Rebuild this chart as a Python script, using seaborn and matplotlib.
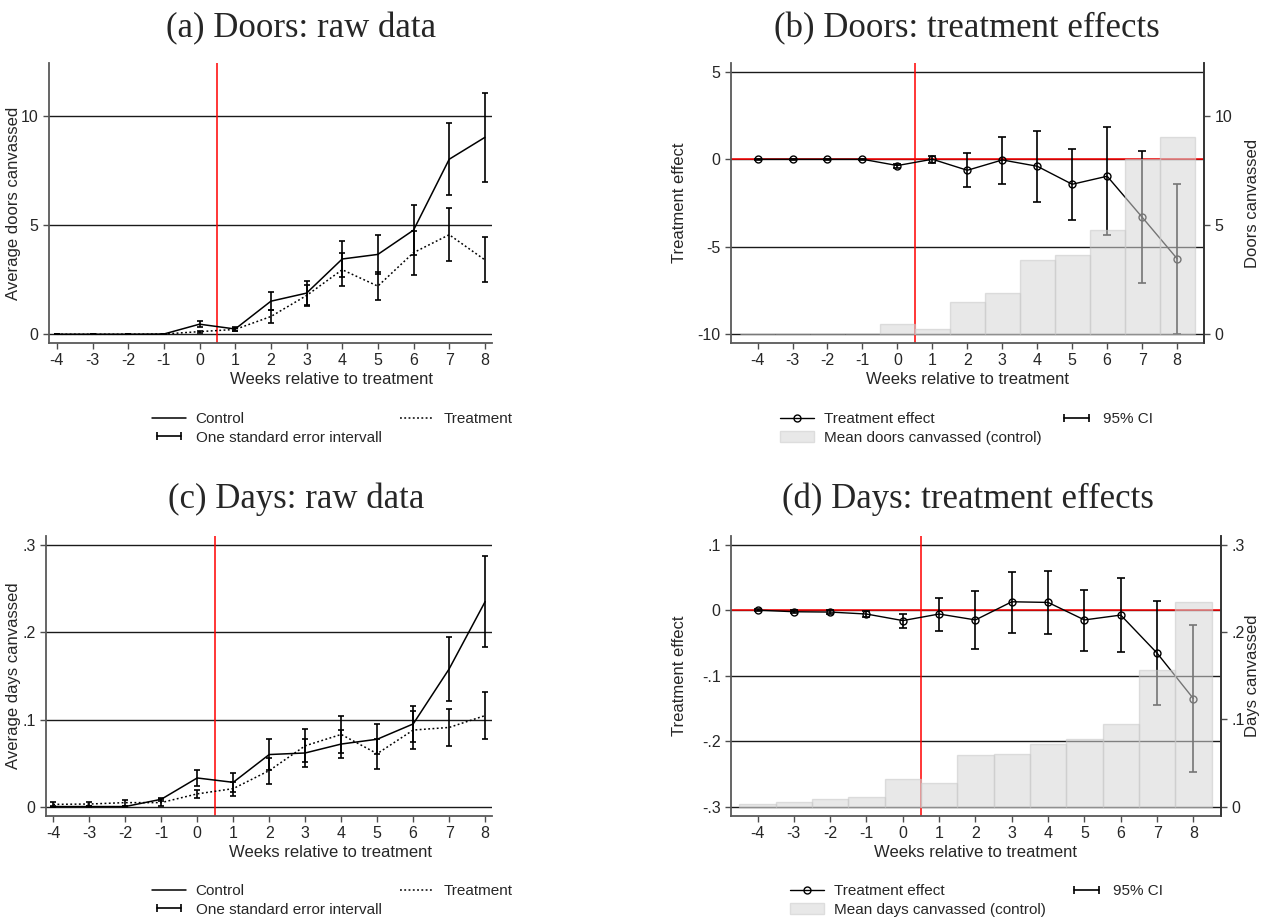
import matplotlib
matplotlib.use('Agg')
import matplotlib.pyplot as plt
import seaborn as sns
import numpy as np
from matplotlib.lines import Line2D
from matplotlib.patches import Patch
from matplotlib.legend_handler import HandlerLine2D
from matplotlib.ticker import FuncFormatter

weeks = [-4, -3, -2, -1, 0, 1, 2, 3, 4, 5, 6, 7, 8]

# (a) doors, raw means with one standard error
doors_control = [0, 0, 0, 0.01, 0.46, 0.24, 1.51, 1.88, 3.44, 3.65, 4.76, 8.0, 9.0]
doors_control_se = [0.01, 0.01, 0.01, 0.01, 0.13, 0.08, 0.41, 0.54, 0.82, 0.88, 1.15, 1.64, 2.03]
doors_treat = [0, 0, 0, 0.01, 0.12, 0.22, 0.81, 1.77, 2.95, 2.2, 3.73, 4.55, 3.4]
doors_treat_se = [0.01, 0.01, 0.01, 0.01, 0.05, 0.06, 0.30, 0.47, 0.75, 0.65, 1.0, 1.21, 1.03]

# (b) doors, treatment effects with 95% CI
doors_effect = [0, 0, 0, 0, -0.36, 0.0, -0.63, -0.04, -0.4, -1.43, -0.97, -3.31, -5.68]
doors_ci_lo = [-0.03, -0.03, -0.03, -0.03, -0.5, -0.23, -1.58, -1.41, -2.46, -3.47, -4.3, -7.09, -9.96]
doors_ci_hi = [0.03, 0.03, 0.03, 0.03, -0.25, 0.19, 0.34, 1.3, 1.64, 0.61, 1.83, 0.48, -1.41]
doors_bar = [0, 0, 0, 0.03, 0.47, 0.24, 1.48, 1.88, 3.40, 3.63, 4.78, 8.0, 9.0]

# (c) days, raw means with one standard error
days_control = [0.0005, 0.0005, 0.0005, 0.0088, 0.0332, 0.0282, 0.060, 0.0618, 0.072, 0.0775, 0.095, 0.158, 0.235]
days_control_se = [0.001, 0.001, 0.001, 0.0015, 0.0095, 0.0105, 0.0174, 0.0164, 0.016, 0.017, 0.021, 0.0367, 0.0525]
days_treat = [0.003, 0.0034, 0.005, 0.005, 0.015, 0.021, 0.0416, 0.070, 0.083, 0.061, 0.088, 0.091, 0.1046]
days_treat_se = [0.0027, 0.0025, 0.0035, 0.004, 0.005, 0.008, 0.015, 0.019, 0.021, 0.017, 0.0215, 0.0214, 0.0273]

# (d) days, treatment effects with 95% CI
days_effect = [0, -0.0025, -0.003, -0.006, -0.016, -0.006, -0.015, 0.0127, 0.0117, -0.015, -0.0076, -0.0656, -0.135]
days_ci_lo = [-0.002, -0.0048, -0.006, -0.0112, -0.027, -0.0315, -0.0595, -0.0346, -0.037, -0.062, -0.064, -0.145, -0.2466]
days_ci_hi = [0.002, 0.0002, 0.0005, -0.0015, -0.0066, 0.019, 0.0285, 0.0585, 0.059, 0.030, 0.0483, 0.0142, -0.0224]
days_bar = [0.0027, 0.006, 0.0084, 0.0118, 0.0324, 0.0275, 0.0588, 0.0607, 0.0714, 0.0771, 0.0943, 0.157, 0.234]

sns.set_theme(style='white')
plt.rcParams['font.family'] = ['Liberation Sans', 'DejaVu Sans']
plt.rcParams['axes.unicode_minus'] = False

FS = 11.5
W, H = 1262, 918
fig = plt.figure(figsize=(W / 100, H / 100), dpi=100)


def pax(l, r, t, b):
    return fig.add_axes([l / W, 1 - b / H, (r - l) / W, (b - t) / H])


def dotfmt(v, pos):
    s = ('%.1f' % v).replace('0.', '.')
    if s in ('.0', '-.0'):
        s = '0'
    return s


def style_axis(ax):
    for s in ['top', 'right']:
        ax.spines[s].set_visible(False)
    for s in ['left', 'bottom']:
        ax.spines[s].set_color('0.35')
        ax.spines[s].set_linewidth(1.3)
    ax.tick_params(axis='both', which='both', direction='out', length=4, width=1,
                   color='0.3', labelsize=FS, left=True, bottom=True)
    ax.set_xticks(weeks)
    ax.grid(False)


def raw_panel(ax, control, control_se, treat, treat_se, ylim, yticks, ylabel, ylab_x, fmt=None):
    style_axis(ax)
    for t in yticks:
        ax.axhline(t, color='0.1', lw=1.0, zorder=1)
    ax.axvline(0.5, color='red', lw=1.1, zorder=2)
    sns.lineplot(x=weeks, y=control, ax=ax, color='black', lw=1.1, errorbar=None, zorder=3)
    sns.lineplot(x=weeks, y=treat, ax=ax, color='black', lw=1.1, errorbar=None,
                 linestyle=(0, (1.2, 1.6)), zorder=3)
    ax.errorbar(weeks, control, yerr=control_se, fmt='none', ecolor='black', elinewidth=1.2,
                capsize=2.5, capthick=1.2, zorder=4)
    ax.errorbar(weeks, treat, yerr=treat_se, fmt='none', ecolor='black', elinewidth=1.2,
                capsize=2.5, capthick=1.2, zorder=4)
    ax.set_ylim(*ylim)
    ax.set_yticks(yticks)
    if fmt:
        ax.yaxis.set_major_formatter(FuncFormatter(fmt))
    ax.set_ylabel(ylabel, fontsize=12)
    ax.yaxis.set_label_coords(ylab_x, 0.5)
    ax.set_xlabel('Weeks relative to treatment', fontsize=12)
    ax.xaxis.set_label_coords(0.638, -0.105)
    handles = [Line2D([], [], color='black', lw=1.1),
               Line2D([], [], color='black', lw=1.2, marker='|', markersize=6, markeredgewidth=1.2),
               Line2D([], [], color='black', lw=1.1, linestyle=(0, (1.2, 1.6)))]
    labels = ['Control', 'One standard error intervall', 'Treatment']
    return handles, labels


def effect_panel(ax, effect, lo, hi, bars, ylim, yticks, ylim2, yticks2, ylabel, ylabel2,
                 barlabel, ylab_x, ylab2_x, fmt=None):
    style_axis(ax)
    ax.spines['right'].set_visible(True)
    ax.spines['right'].set_color('0.2')
    ax.spines['right'].set_linewidth(1.2)
    for t in yticks:
        ax.axhline(t, color='0.1', lw=1.0, zorder=1)
    ax.axhline(0, color='red', lw=1.1, zorder=2)
    ax.axvline(0.5, color='red', lw=1.1, zorder=2)
    e = np.array(effect)
    ax.errorbar(weeks, effect, yerr=[e - np.array(lo), np.array(hi) - e], fmt='none',
                ecolor='black', elinewidth=1.2, capsize=2.8, capthick=1.2, zorder=3)
    sns.lineplot(x=weeks, y=effect, ax=ax, color='black', lw=1.0, errorbar=None,
                 marker='o', markersize=5, markerfacecolor='none', markeredgecolor='black',
                 markeredgewidth=1.0, zorder=4)
    ax.set_ylim(*ylim)
    ax.set_yticks(yticks)
    if fmt:
        ax.yaxis.set_major_formatter(FuncFormatter(fmt))
    ax.set_ylabel(ylabel, fontsize=12)
    ax.yaxis.set_label_coords(ylab_x, 0.5)
    ax.set_xlabel('Weeks relative to treatment', fontsize=12)
    ax.xaxis.set_label_coords(0.5, -0.105)

    ax2 = ax.twinx()
    sns.barplot(x=weeks, y=bars, ax=ax2, native_scale=True, width=1, color='#d6d6d6',
                saturation=1, alpha=0.55, edgecolor='#c8c8c8', linewidth=1.0, errorbar=None)
    for s in ['top', 'left', 'bottom']:
        ax2.spines[s].set_visible(False)
    ax2.spines['right'].set_color('0.2')
    ax2.spines['right'].set_linewidth(1.2)
    ax2.set_ylim(*ylim2)
    ax2.set_yticks(yticks2)
    if fmt:
        ax2.yaxis.set_major_formatter(FuncFormatter(fmt))
    ax2.tick_params(axis='y', direction='out', length=4, width=1, color='0.3',
                    labelsize=FS, right=True)
    ax2.grid(False)
    ax2.set_ylabel(ylabel2, fontsize=12)
    ax2.yaxis.set_label_coords(ylab2_x, 0.5)
    ax2.set_xlabel('')
    handles = [Line2D([], [], color='black', lw=1.0, marker='o', markersize=5,
                      markerfacecolor='none', markeredgecolor='black'),
               Patch(facecolor='#e8e8e8', edgecolor='#dddddd'),
               Line2D([], [], color='black', lw=1.2, marker='|', markersize=6, markeredgewidth=1.2)]
    labels = ['Treatment effect', barlabel, '95% CI']
    return ax2, handles, labels


def add_legend(ax, handles, labels, x, y, colspace):
    hm = {handles[i]: HandlerLine2D(numpoints=2) for i in range(len(handles))
          if labels[i] in ('One standard error intervall', '95% CI')}
    ax.legend(handles, labels, ncol=2, loc='upper left', bbox_to_anchor=(x / W, 1 - y / H),
              bbox_transform=fig.transFigure, frameon=False, fontsize=11, borderpad=0,
              borderaxespad=0, handlelength=2.2, handletextpad=0.65, labelspacing=0.3,
              columnspacing=colspace, handler_map=hm)


# panel a
ax_a = pax(49, 492, 63, 343)
h, l = raw_panel(ax_a, doors_control, doors_control_se, doors_treat, doors_treat_se,
                 (-0.4, 12.4), [0, 5, 10], 'Average doors canvassed', -0.063)
ax_a.set_xlim(-4.22, 8.2)
add_legend(ax_a, h, l, 152, 412, 1.2)

# panel b
ax_b = pax(731, 1204, 63, 343)
ax_b2, h, l = effect_panel(ax_b, doors_effect, doors_ci_lo, doors_ci_hi, doors_bar,
                           (-10.5, 5.5), [-10, -5, 0, 5], (-0.4, 12.4), [0, 5, 10],
                           'Treatment effect', 'Doors canvassed', 'Mean doors canvassed (control)',
                           -0.093, 1.087)
ax_b.set_xlim(-4.76, 8.77)
add_legend(ax_b2, h, l, 780, 412, 1.2)

# panel c
ax_c = pax(46, 492, 536, 816)
h, l = raw_panel(ax_c, days_control, days_control_se, days_treat, days_treat_se,
                 (-0.0103, 0.31), [0, 0.1, 0.2, 0.3], 'Average days canvassed', -0.056, fmt=dotfmt)
ax_c.set_xlim(-4.2, 8.19)
add_legend(ax_c, h, l, 152, 884, 1.2)

# panel d
ax_d = pax(731, 1221, 536, 816)
ax_d2, h, l = effect_panel(ax_d, days_effect, days_ci_lo, days_ci_hi, days_bar,
                           (-0.314, 0.113), [-0.3, -0.2, -0.1, 0, 0.1], (-0.0105, 0.31),
                           [0, 0.1, 0.2, 0.3], 'Treatment effect', 'Days canvassed',
                           'Mean days canvassed (control)', -0.09, 1.049, fmt=dotfmt)
ax_d.set_xlim(-4.73, 8.76)
add_legend(ax_d2, h, l, 790, 884, 1.6)

tfont = dict(family=['Liberation Serif', 'DejaVu Serif'], fontsize=25, ha='center', va='center')
fig.text(301 / W, 1 - 29 / H, '(a) Doors: raw data', **tfont)
fig.text(967 / W, 1 - 29 / H, '(b) Doors: treatment effects', **tfont)
fig.text(296 / W, 1 - 499 / H, '(c) Days: raw data', **tfont)
fig.text(968 / W, 1 - 499 / H, '(d) Days: treatment effects', **tfont)

fig.savefig('out.png', dpi=100)
